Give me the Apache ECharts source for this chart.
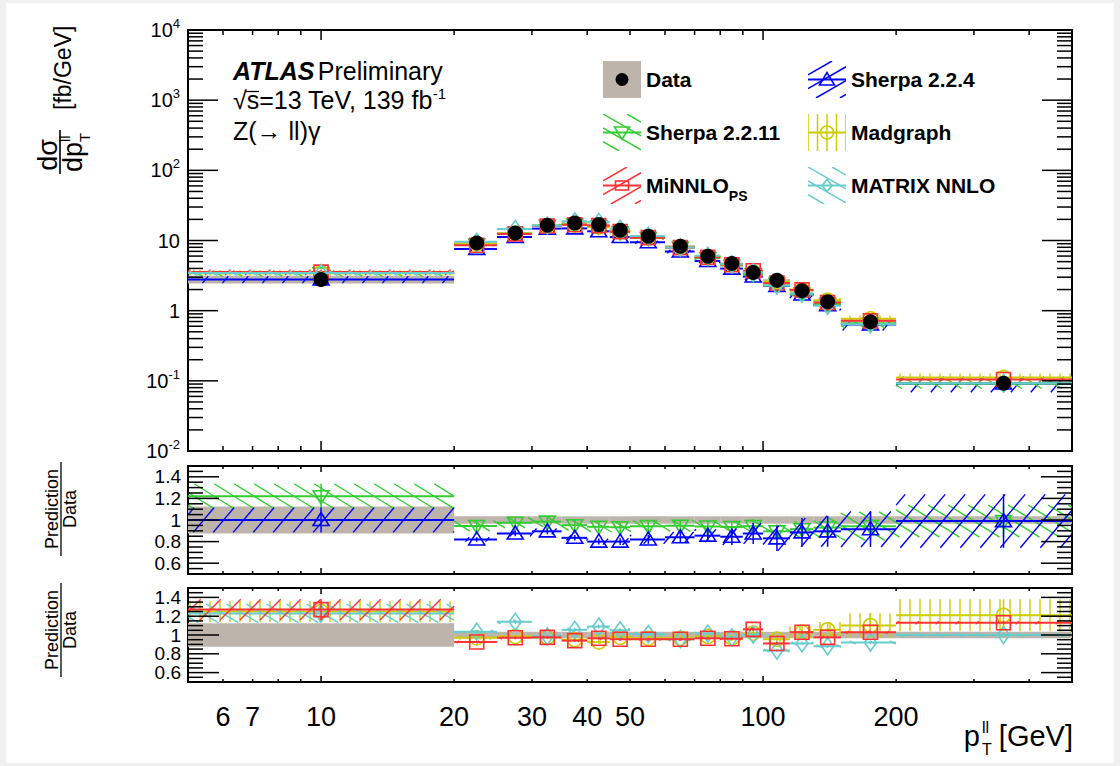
<!DOCTYPE html>
<html><head><meta charset="utf-8">
<script src="https://cdn.jsdelivr.net/npm/echarts@6/dist/echarts.min.js"></script>
<style>html,body{margin:0;padding:0;background:#f0f0f0;}#c{width:1120px;height:766px;}</style>
</head><body><div id="c"></div>
<script>
// ---------------- data ----------------
const binEdges = [0, 20, 25, 30, 35, 40, 45, 50, 60, 70, 80, 90, 100, 115, 130, 150, 200, 500];
const dataValues = [2.79, 9.25, 12.8, 16.5, 17.8, 16.9, 14.0, 11.5, 8.3, 5.98, 4.71, 3.50, 2.72, 1.92, 1.34, 0.695, 0.0924];
const dataRelUnc = [0.125, 0.034, 0.034, 0.034, 0.034, 0.034, 0.034, 0.034, 0.034, 0.034, 0.034, 0.034, 0.034, 0.034, 0.034, 0.034, 0.034];
const sherpa224Ratio = [1.00, 0.82, 0.875, 0.895, 0.835, 0.80, 0.80, 0.82, 0.84, 0.855, 0.845, 0.875, 0.83, 0.885, 0.895, 0.915, 0.99];
const sherpa224Unc = [0.115, 0.025, 0.03, 0.03, 0.03, 0.035, 0.04, 0.05, 0.06, 0.07, 0.09, 0.11, 0.14, 0.15, 0.16, 0.18, 0.25];
const sherpa2211Ratio = [1.22, 0.945, 0.975, 0.985, 0.952, 0.937, 0.933, 0.943, 0.947, 0.94, 0.935, 0.943, 0.895, 0.915, 0.93, 0.943, 0.99];
const sherpa2211Unc = [0.095, 0.05, 0.05, 0.05, 0.05, 0.05, 0.05, 0.055, 0.055, 0.06, 0.06, 0.065, 0.07, 0.08, 0.10, 0.14, 0.15];
const minnloRatio = [1.27, 0.925, 0.97, 0.975, 0.94, 0.965, 0.955, 0.955, 0.955, 0.965, 0.96, 1.06, 0.91, 1.03, 0.975, 1.03, 1.13];
const minnloUnc = [0.087, 0.015, 0.015, 0.015, 0.015, 0.015, 0.015, 0.015, 0.015, 0.015, 0.015, 0.015, 0.015, 0.015, 0.015, 0.015, 0.015];
const madgraphRatio = [1.25, 0.97, 0.985, 0.975, 0.95, 0.925, 0.975, 0.965, 0.965, 0.985, 0.97, 1.02, 0.955, 1.03, 1.055, 1.10, 1.21];
const madgraphUnc = [0.09, 0.02, 0.02, 0.02, 0.02, 0.02, 0.025, 0.025, 0.03, 0.03, 0.035, 0.04, 0.05, 0.06, 0.08, 0.12, 0.14];
const matrixRatio = [1.23, 1.035, 1.14, 0.985, 1.055, 1.09, 1.05, 1.01, 0.955, 1.015, 0.975, 1.005, 0.835, 0.91, 0.88, 0.92, 1.0];
const matrixUnc = [0.08, 0.02, 0.02, 0.02, 0.02, 0.02, 0.02, 0.02, 0.02, 0.02, 0.02, 0.02, 0.02, 0.02, 0.02, 0.02, 0.02];
const xTickLabels = [6, 7, 10, 20, 30, 40, 50, 100, 200];
const xMajorTicks = [10, 100];
const xMinorTicks = [6, 7, 8, 9, 20, 30, 40, 50, 60, 70, 80, 90, 200, 300, 400];
const yMainDecades = [0.01, 0.1, 1, 10, 100, 1000, 10000];
const ratioTickLabels = [0.6, 0.8, 1, 1.2, 1.4];

// ---------------- style config ----------------
const FONT = '"Liberation Sans", Arial, Helvetica, sans-serif';
const X_MIN = 5, X_MAX = 500;
const BAND_GRAY = '#bdb5ab';
const models = {
  s224:   {name: 'Sherpa 2.2.4',  color: '#0000ff', hatch: {dir: 1,  ang: 50, sp: 20}, marker: 'triUp'},
  s2211:  {name: 'Sherpa 2.2.11', color: '#33cc33', hatch: {dir: -1, ang: 32, sp: 20}, marker: 'triDown'},
  mg:     {name: 'Madgraph',      color: '#cccc00', hatch: {type: 'v', sp: 10},        marker: 'circle'},
  minnlo: {name: 'MiNNLO_PS',     color: '#ff3333', hatch: {dir: 1,  ang: 45, sp: 20}, marker: 'square'},
  matrix: {name: 'MATRIX NNLO',   color: '#66cccc', hatch: {dir: -1, ang: 30, sp: 20}, marker: 'diamond'}
};

function hatchLines(x0, y0, x1, y1, h) {
  const out = [];
  if (h.type === 'v') {
    for (let k = Math.ceil(x0 / h.sp); k <= Math.floor(x1 / h.sp); k++) {
      out.push({x1: k * h.sp, y1: y0, x2: k * h.sp, y2: y1});
    }
    return out;
  }
  const m = Math.tan(h.ang * Math.PI / 180), d = h.dir;
  const us = [x0 + d * y0 / m, x0 + d * y1 / m, x1 + d * y0 / m, x1 + d * y1 / m];
  const umin = Math.min.apply(null, us), umax = Math.max.apply(null, us);
  for (let k = Math.ceil(umin / h.sp); k <= Math.floor(umax / h.sp); k++) {
    const c = k * h.sp;
    let ya, yb;
    if (d > 0) { ya = m * (c - x1); yb = m * (c - x0); } else { ya = m * (x0 - c); yb = m * (x1 - c); }
    const ys = Math.max(ya, y0), ye = Math.min(yb, y1);
    if (ye - ys < 0.3) continue;
    out.push({x1: c - d * ys / m, y1: ys, x2: c - d * ye / m, y2: ye});
  }
  return out;
}

function markerEl(kind, x, y, color) {
  const st = {stroke: color, fill: 'none', lineWidth: 1.6};
  if (kind === 'triUp') return {type: 'polygon', shape: {points: [[x, y - 7.5], [x - 8, y + 5.5], [x + 8, y + 5.5]]}, style: st};
  if (kind === 'triDown') return {type: 'polygon', shape: {points: [[x, y + 7.5], [x - 8, y - 5.5], [x + 8, y - 5.5]]}, style: st};
  if (kind === 'circle') return {type: 'circle', shape: {cx: x, cy: y, r: 7}, style: st};
  if (kind === 'square') return {type: 'rect', shape: {x: x - 7, y: y - 7, width: 14, height: 14}, style: st};
  return {type: 'polygon', shape: {points: [[x, y - 8.5], [x + 6, y], [x, y + 8.5], [x - 6, y]]}, style: st};
}

function mcRender(model) {
  return function (params, api) {
    const c = api.value(0), v = api.value(1), lo = api.value(2), hi = api.value(3), u = api.value(4);
    const pL = api.coord([Math.max(lo, X_MIN), v]);
    const pR = api.coord([Math.min(hi, X_MAX), v]);
    const pC = api.coord([c, v]);
    const yT = api.coord([c, v * (1 + u)])[1];
    const yB = api.coord([c, v * (1 - u)])[1];
    const kids = hatchLines(pL[0], yT, pR[0], yB, model.hatch).map(function (l) {
      return {type: 'line', shape: l, style: {stroke: model.color, lineWidth: 1.4}};
    });
    kids.push({type: 'line', shape: {x1: pL[0], y1: pC[1], x2: pR[0], y2: pC[1]}, style: {stroke: model.color, lineWidth: 2}});
    kids.push({type: 'line', shape: {x1: pC[0], y1: yT, x2: pC[0], y2: yB}, style: {stroke: model.color, lineWidth: 1.5}});
    kids.push(markerEl(model.marker, pC[0], pC[1], model.color));
    return {type: 'group', children: kids};
  };
}

function bandRender(params, api) {
  const v = api.value(1), lo = api.value(2), hi = api.value(3), u = api.value(4);
  const pL = api.coord([Math.max(lo, X_MIN), v * (1 + u)]);
  const pR = api.coord([Math.min(hi, X_MAX), v * (1 - u)]);
  return {type: 'rect', shape: {x: pL[0], y: pL[1], width: pR[0] - pL[0], height: pR[1] - pL[1]}, style: {fill: BAND_GRAY}};
}

function dotRender(params, api) {
  const p = api.coord([api.value(0), api.value(1)]);
  return {type: 'circle', shape: {cx: p[0], cy: p[1], r: 7.5}, style: {fill: '#000'}};
}

function tickRender(len) {
  return function (params, api) {
    const cs = params.coordSys;
    const kind = api.value(2);
    const st = {stroke: '#000', lineWidth: 1.5};
    const p = api.coord([api.value(0), api.value(1)]);
    if (kind < 2) {
      const L = kind === 0 ? len.xMaj : len.xMin;
      return {type: 'group', children: [
        {type: 'line', shape: {x1: p[0], y1: cs.y + cs.height, x2: p[0], y2: cs.y + cs.height - L}, style: st},
        {type: 'line', shape: {x1: p[0], y1: cs.y, x2: p[0], y2: cs.y + L}, style: st}]};
    }
    const L = kind === 2 ? len.yMaj : len.yMin;
    return {type: 'group', children: [
      {type: 'line', shape: {x1: cs.x, y1: p[1], x2: cs.x + L, y2: p[1]}, style: st},
      {type: 'line', shape: {x1: cs.x + cs.width, y1: p[1], x2: cs.x + cs.width - L, y2: p[1]}, style: st}]};
  };
}

function binData(values, unc) {
  return values.map(function (v, i) {
    return [(binEdges[i] + binEdges[i + 1]) / 2, v, binEdges[i], binEdges[i + 1], unc[i]];
  });
}
function times(a, b) { return a.map(function (v, i) { return v * b[i]; }); }
const ones = dataValues.map(function () { return 1; });

// tick lists
const mainYMinor = [];
yMainDecades.slice(0, -1).forEach(function (d) { for (let f = 2; f <= 9; f++) mainYMinor.push(d * f); });
const ratioYMinor = [];
for (let k = 11; k <= 29; k++) { const v = k * 0.05; if (!ratioTickLabels.some(function (t) { return Math.abs(t - v) < 1e-6; })) ratioYMinor.push(v); }
function tickData(yMaj, yMin, yRef, xRef) {
  const d = [];
  xMajorTicks.forEach(function (v) { d.push([v, yRef, 0]); });
  xMinorTicks.forEach(function (v) { d.push([v, yRef, 1]); });
  yMaj.forEach(function (v) { d.push([xRef, v, 2]); });
  yMin.forEach(function (v) { d.push([xRef, v, 3]); });
  return d;
}

// ---------------- legend icons ----------------
function svgMarker(kind, x, y, c) {
  const st = 'fill="none" stroke="' + c + '" stroke-width="1.6"';
  if (kind === 'triUp') return '<polygon points="' + x + ',' + (y - 7) + ' ' + (x - 7.5) + ',' + (y + 5.5) + ' ' + (x + 7.5) + ',' + (y + 5.5) + '" ' + st + '/>';
  if (kind === 'triDown') return '<polygon points="' + x + ',' + (y + 7) + ' ' + (x - 7.5) + ',' + (y - 5.5) + ' ' + (x + 7.5) + ',' + (y - 5.5) + '" ' + st + '/>';
  if (kind === 'circle') return '<circle cx="' + x + '" cy="' + y + '" r="6.5" ' + st + '/>';
  if (kind === 'square') return '<rect x="' + (x - 6.5) + '" y="' + (y - 4.5) + '" width="13" height="9" ' + st + '/>';
  return '<polygon points="' + x + ',' + (y - 6) + ' ' + (x + 5) + ',' + y + ' ' + x + ',' + (y + 6) + ' ' + (x - 5) + ',' + y + '" ' + st + '/>';
}
function iconFor(m) {
  let s = '<svg xmlns="http://www.w3.org/2000/svg" width="38" height="37" viewBox="0 0 38 37">';
  if (!m) {
    s += '<rect x="0" y="0" width="38" height="37" fill="' + BAND_GRAY + '"/><circle cx="19" cy="18.5" r="6.5" fill="#000"/>';
  } else {
    const h = m.hatch.type === 'v' ? {type: 'v', sp: 9.5} : {dir: m.hatch.dir, ang: 30, sp: 24};
    hatchLines(0, 0, 38, 37, h).forEach(function (l) {
      s += '<line x1="' + l.x1 + '" y1="' + l.y1 + '" x2="' + l.x2 + '" y2="' + l.y2 + '" stroke="' + m.color + '" stroke-width="1.5"/>';
    });
    s += '<line x1="0" y1="18.5" x2="38" y2="18.5" stroke="' + m.color + '" stroke-width="1.8"/>';
    s += svgMarker(m.marker, 19, 18.5, m.color);
  }
  s += '</svg>';
  return 'image://data:image/svg+xml;charset=utf-8,' + encodeURIComponent(s);
}

// ---------------- series ----------------
function mcSeries(model, ratio, unc, panel, mainScale) {
  return {
    type: 'custom', name: model.name, xAxisIndex: panel, yAxisIndex: panel, z: 3, clip: true, silent: true,
    renderItem: mcRender(model), encode: {x: 0, y: 1},
    data: binData(mainScale ? times(mainScale, ratio) : ratio, unc)
  };
}
const series = [
  {type: 'custom', name: 'Data', xAxisIndex: 0, yAxisIndex: 0, z: 2, clip: true, silent: true, renderItem: bandRender, encode: {x: 0, y: 1}, data: binData(dataValues, dataRelUnc)},
  mcSeries(models.s224, sherpa224Ratio, sherpa224Unc, 0, dataValues),
  mcSeries(models.s2211, sherpa2211Ratio, sherpa2211Unc, 0, dataValues),
  mcSeries(models.mg, madgraphRatio, madgraphUnc, 0, dataValues),
  mcSeries(models.minnlo, minnloRatio, minnloUnc, 0, dataValues),
  mcSeries(models.matrix, matrixRatio, matrixUnc, 0, dataValues),
  {type: 'custom', name: 'Data', xAxisIndex: 0, yAxisIndex: 0, z: 5, clip: true, silent: true, renderItem: dotRender, encode: {x: 0, y: 1}, data: binData(dataValues, dataRelUnc)},
  {type: 'custom', name: 'axis-ticks-0', xAxisIndex: 0, yAxisIndex: 0, z: 10, silent: true, renderItem: tickRender({xMaj: 10, xMin: 5, yMaj: 30, yMin: 15}), encode: {x: 0, y: 1}, data: tickData(yMainDecades, mainYMinor, 1, 10)},

  {type: 'custom', name: 'Data', xAxisIndex: 1, yAxisIndex: 1, z: 2, clip: true, silent: true, renderItem: bandRender, encode: {x: 0, y: 1}, data: binData(ones, dataRelUnc)},
  mcSeries(models.s2211, sherpa2211Ratio, sherpa2211Unc, 1),
  mcSeries(models.s224, sherpa224Ratio, sherpa224Unc, 1),
  {type: 'custom', name: 'axis-ticks-1', xAxisIndex: 1, yAxisIndex: 1, z: 10, silent: true, renderItem: tickRender({xMaj: 6, xMin: 3, yMaj: 31, yMin: 15}), encode: {x: 0, y: 1}, data: tickData(ratioTickLabels, ratioYMinor, 1, 10)},

  {type: 'custom', name: 'Data', xAxisIndex: 2, yAxisIndex: 2, z: 2, clip: true, silent: true, renderItem: bandRender, encode: {x: 0, y: 1}, data: binData(ones, dataRelUnc)},
  mcSeries(models.mg, madgraphRatio, madgraphUnc, 2),
  mcSeries(models.matrix, matrixRatio, matrixUnc, 2),
  mcSeries(models.minnlo, minnloRatio, minnloUnc, 2),
  {type: 'custom', name: 'axis-ticks-2', xAxisIndex: 2, yAxisIndex: 2, z: 10, silent: true, renderItem: tickRender({xMaj: 6, xMin: 3, yMaj: 31, yMin: 15}), encode: {x: 0, y: 1}, data: tickData(ratioTickLabels, ratioYMinor, 1, 10)}
];

// ---------------- axes ----------------
const hidden = {axisLine: {show: false}, axisTick: {show: false}, splitLine: {show: false}};
function logX(grid, pos) {
  return Object.assign({gridIndex: grid, type: 'log', logBase: 10, min: X_MIN, max: X_MAX, position: pos, axisLabel: {show: false}}, hidden);
}
function ratioY(grid) {
  return Object.assign({gridIndex: grid, type: 'value', min: 0.5, max: 1.5, interval: 0.1,
    axisLabel: {fontSize: 19, fontFamily: FONT, color: '#000', margin: 7,
      formatter: function (v) {
        const r = Math.round(v * 10);
        return (r % 2 === 0 && r > 5 && r < 15) ? String(r / 10) : '';
      }}}, hidden);
}
const supRich = {
  n: {fontSize: 20, fontFamily: FONT, color: '#000', lineHeight: 26, verticalAlign: 'middle'},
  s: {fontSize: 13, fontFamily: FONT, color: '#000', lineHeight: 13, verticalAlign: 'top'}
};

// ---------------- texts ----------------
const T = function (text, x, y, size, extra) {
  return {type: 'text', x: x, y: y, silent: true,
    style: Object.assign({text: text, fontSize: size, fontFamily: FONT, fill: '#000', align: 'center', textAlign: 'center', verticalAlign: 'middle', textVerticalAlign: 'middle'}, extra || {})};
};
const L = function (x1, y1, x2, y2, w) { return {type: 'line', silent: true, shape: {x1: x1, y1: y1, x2: x2, y2: y2}, style: {stroke: '#000', lineWidth: w || 1.5}}; };
const left = {align: 'left', textAlign: 'left'};

const graphics = [
  {type: 'rect', z: -10, silent: true, shape: {x: 6, y: 3, width: 1108, height: 760}, style: {fill: '#fff'}},
  // main y title (rotated)
  {type: 'group', x: 60, y: 152, rotation: Math.PI / 2, children: [
    T('dσ', -3, -12, 27),
    L(-22, 0, 22, 0, 1.6),
    T('dp', -5, 13, 27),
    T('ll', 10, 4, 15, left),
    T('T', 10, 24, 15, left),
    T('[fb/GeV]', 42, 3, 23, left)
  ]},
  // ratio titles
  {type: 'group', x: 61, y: 509, rotation: Math.PI / 2, children: [T('Prediction', 0, -9, 18), L(-47, 0, 47, 0, 1.3), T('Data', 0, 9, 18)]},
  {type: 'group', x: 61, y: 630, rotation: Math.PI / 2, children: [T('Prediction', 0, -9, 18), L(-47, 0, 47, 0, 1.3), T('Data', 0, 9, 18)]},
  // ATLAS label
  {type: 'text', x: 233, y: 71, silent: true, style: {text: '{a|ATLAS} {b|Preliminary}', align: 'left', textAlign: 'left', verticalAlign: 'middle', textVerticalAlign: 'middle',
    rich: {a: {fontSize: 25, fontFamily: FONT, fontWeight: 'bold', fontStyle: 'italic', color: '#000'}, b: {fontSize: 25, fontFamily: FONT, color: '#000'}}}},
  {type: 'text', x: 233, y: 100, silent: true, style: {text: '{n|√s=13 TeV, 139 fb}{s|-1}', align: 'left', textAlign: 'left', verticalAlign: 'middle', textVerticalAlign: 'middle',
    rich: {n: {fontSize: 25, fontFamily: FONT, lineHeight: 29, verticalAlign: 'middle', color: '#000'}, s: {fontSize: 15, fontFamily: FONT, lineHeight: 15, verticalAlign: 'top', color: '#000'}}}},
  L(245, 91.5, 259, 91.5, 1.3),
  T('Z(→ ll)γ', 233, 131, 25, left),
  // x axis title
  T('p', 980, 736, 29, {align: 'right', textAlign: 'right'}),
  T('ll', 982, 727, 16, left),
  T('T', 982, 749, 16, left),
  T('[GeV]', 1073, 736, 29, {align: 'right', textAlign: 'right'})
];

const legendText = {
  rich: {
    a: {fontSize: 21, fontWeight: 'bold', fontFamily: FONT, color: '#000', lineHeight: 34, verticalAlign: 'middle'},
    sub: {fontSize: 14, fontWeight: 'bold', fontFamily: FONT, color: '#000', lineHeight: 14, verticalAlign: 'bottom'}
  }
};
function legendFmt(name) { return name === 'MiNNLO_PS' ? '{a|MiNNLO}{sub|PS}' : '{a|' + name + '}'; }

const option = {
  animation: false,
  backgroundColor: '#f0f0f0',
  grid: [
    {left: 188, top: 30, width: 884, height: 421, show: true, borderColor: '#000', borderWidth: 2, backgroundColor: 'transparent'},
    {left: 188, top: 466, width: 884, height: 108, show: true, borderColor: '#000', borderWidth: 2, backgroundColor: 'transparent'},
    {left: 188, top: 588, width: 884, height: 94, show: true, borderColor: '#000', borderWidth: 2, backgroundColor: 'transparent'}
  ],
  xAxis: [
    logX(0, 'bottom'), logX(1, 'bottom'), logX(2, 'top'),
    Object.assign({gridIndex: 2, type: 'value', position: 'bottom', min: Math.log10(X_MIN), max: Math.log10(X_MAX),
      axisLabel: {customValues: xTickLabels.map(function (v) { return Math.log10(v); }), fontSize: 27, fontFamily: FONT, color: '#000', margin: 21,
        formatter: function (v) { return String(Math.round(Math.pow(10, v))); }}}, hidden)
  ],
  yAxis: [
    Object.assign({gridIndex: 0, type: 'log', logBase: 10, min: 0.01, max: 10000,
      axisLabel: {margin: 8, rich: supRich, formatter: function (v) {
        const e = Math.round(Math.log10(v));
        if (e === 0) return '{n|1}';
        if (e === 1) return '{n|10}';
        return '{n|10}{s|' + e + '}';
      }}}, hidden),
    ratioY(1), ratioY(2)
  ],
  legend: [
    {left: 598, top: 56, orient: 'vertical', itemWidth: 38, itemHeight: 37, itemGap: 16, selectedMode: false, textStyle: legendText, formatter: legendFmt,
      data: [{name: 'Data', icon: iconFor(null)}, {name: 'Sherpa 2.2.11', icon: iconFor(models.s2211)}, {name: 'MiNNLO_PS', icon: iconFor(models.minnlo)}]},
    {left: 803, top: 56, orient: 'vertical', itemWidth: 38, itemHeight: 37, itemGap: 16, selectedMode: false, textStyle: legendText, formatter: legendFmt,
      data: [{name: 'Sherpa 2.2.4', icon: iconFor(models.s224)}, {name: 'Madgraph', icon: iconFor(models.mg)}, {name: 'MATRIX NNLO', icon: iconFor(models.matrix)}]}
  ],
  graphic: {elements: graphics},
  series: series
};

const chart = echarts.init(document.getElementById('c'), null, {renderer: 'svg'});
chart.setOption(option);
</script></body></html>
